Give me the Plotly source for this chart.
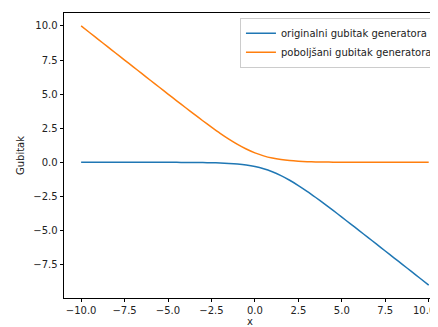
import plotly.graph_objects as go

x_vals = [-10, -9.5, -9, -8.5, -8, -7.5, -7, -6.5, -6, -5.5, -5, -4.5, -4, -3.5, -3, -2.5, -2, -1.5, -1, -0.5,
          0, 0.5, 1, 1.5, 2, 2.5, 3, 3.5, 4, 4.5, 5, 5.5, 6, 6.5, 7, 7.5, 8, 8.5, 9, 9.5, 10]

originalni = [0.0, 0.0, 0.0, -0.0001, -0.0001, -0.0002, -0.0003, -0.0006, -0.0009, -0.0015,
              -0.0025, -0.0041, -0.0067, -0.011, -0.0181, -0.0297, -0.0486, -0.0789, -0.1269, -0.2014,
              -0.3133, -0.4741, -0.6931, -0.9741, -1.3133, -1.7014, -2.1269, -2.5789, -3.0486, -3.5297,
              -4.0181, -4.511, -5.0067, -5.5041, -6.0025, -6.5015, -7.0009, -7.5006, -8.0003, -8.5002, -9.0001]

poboljsani = [10.0, 9.5001, 9.0001, 8.5002, 8.0003, 7.5006, 7.0009, 6.5015, 6.0025, 5.5041,
              5.0067, 4.511, 4.0181, 3.5297, 3.0486, 2.5789, 2.1269, 1.7014, 1.3133, 0.9741,
              0.6931, 0.4741, 0.3133, 0.2014, 0.1269, 0.0789, 0.0486, 0.0297, 0.0181, 0.011,
              0.0067, 0.0041, 0.0025, 0.0015, 0.0009, 0.0006, 0.0003, 0.0002, 0.0001, 0.0001, 0.0]

x_ticks = [-10, -7.5, -5, -2.5, 0, 2.5, 5, 7.5, 10]
y_ticks = [-7.5, -5, -2.5, 0, 2.5, 5, 7.5, 10]

fig = go.Figure()
fig.add_trace(go.Scatter(x=x_vals, y=originalni, mode="lines", name="originalni gubitak generatora",
                         line=dict(color="#1f77b4", width=1.5, shape="spline", smoothing=0.5)))
fig.add_trace(go.Scatter(x=x_vals, y=poboljsani, mode="lines", name="poboljšani gubitak generatora",
                         line=dict(color="#ff7f0e", width=1.5, shape="spline", smoothing=0.5)))

axis_common = dict(showgrid=False, zeroline=False, showline=True, linecolor="black", linewidth=0.8,
                   ticks="outside", ticklen=3.5, tickwidth=0.8, tickcolor="black",
                   tickfont=dict(family="DejaVu Sans", size=10, color="#222222"),
                   tickformat=".1f", automargin=False)

fig.update_layout(
    width=430, height=319,
    margin=dict(l=56, r=0, t=5, b=29),
    paper_bgcolor="white", plot_bgcolor="white",
    font=dict(family="DejaVu Sans", size=10, color="#222222"),
    xaxis=dict(range=[-10.985, 10.42], tickvals=x_ticks, mirror=True,
               title=dict(text="x", standoff=3, font=dict(size=10)), **axis_common),
    yaxis=dict(range=[-9.95, 10.95], tickvals=y_ticks,
               title=dict(text="Gubitak", standoff=6, font=dict(size=10)), **axis_common),
    legend=dict(x=0.473, y=0.983, xanchor="left", yanchor="top",
                bgcolor="rgba(255,255,255,0.8)", bordercolor="#cccccc", borderwidth=1,
                font=dict(family="DejaVu Sans", size=10, color="#222222"),
                tracegroupgap=0, itemwidth=30),
    showlegend=True,
)

# last x tick label, nudged left so it stays fully inside the picture
fig.add_annotation(x=x_ticks[-1], xref="x", y=0, yref="paper", yanchor="top", yshift=-5, xshift=-5,
                   text="10.0", showarrow=False,
                   font=dict(family="DejaVu Sans", size=10, color="#222222"))

fig.write_html("out.html")
